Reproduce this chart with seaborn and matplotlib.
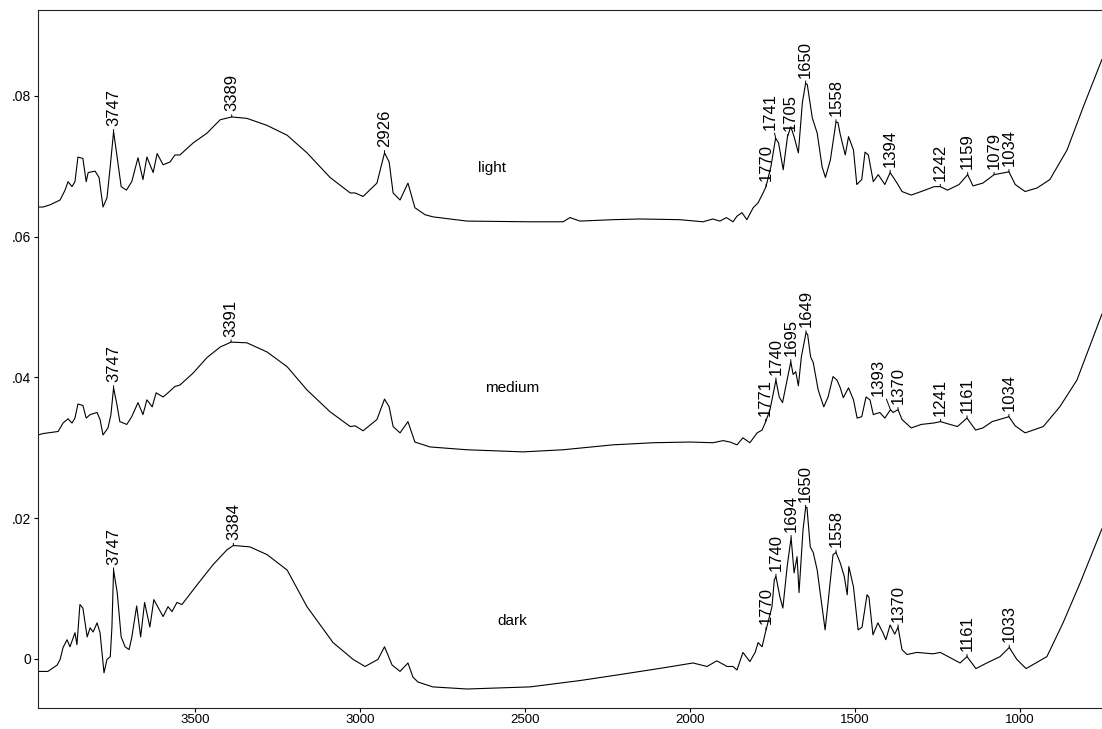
import numpy as np
import pandas as pd
import matplotlib
matplotlib.use("Agg")
import matplotlib.pyplot as plt
from matplotlib.ticker import FuncFormatter
import seaborn as sns

# ---------------- data (wavenumber cm-1, absorbance) ----------------
light_wn = [3976, 3961, 3940, 3909, 3894, 3885, 3873, 3864, 3855, 3840, 3830, 3824, 3803, 3791,
            3779, 3767, 3757, 3747, 3738, 3724, 3708, 3692, 3673, 3658, 3646, 3627, 3615, 3597,
            3576, 3561, 3546, 3506, 3464, 3424, 3389, 3343, 3282, 3221, 3161, 3091, 3030, 3015,
            2991, 2949, 2926, 2912, 2900, 2879, 2855, 2834, 2803, 2779, 2676, 2485, 2385, 2364,
            2334, 2234, 2152, 2031, 1961, 1931, 1910, 1890, 1870, 1858, 1843, 1828, 1809, 1794,
            1779, 1770, 1755, 1741, 1732, 1718, 1705, 1695, 1685, 1672, 1660, 1650, 1645, 1630,
            1615, 1600, 1590, 1575, 1558, 1552, 1545, 1530, 1520, 1505, 1495, 1480, 1470, 1460,
            1445, 1430, 1410, 1394, 1373, 1358, 1330, 1300, 1260, 1242, 1220, 1185, 1159, 1143,
            1113, 1079, 1034, 1015, 985, 949, 910, 858, 809, 752]
light_abs = [0.0642, 0.0642, 0.0645, 0.0652, 0.0666, 0.0678, 0.0671, 0.0678, 0.0713, 0.0711, 0.0678,
             0.0691, 0.0693, 0.0684, 0.0642, 0.0655, 0.0700, 0.0749, 0.0719, 0.0671, 0.0666, 0.0678,
             0.0712, 0.0681, 0.0713, 0.0691, 0.0718, 0.0702, 0.0706, 0.0716, 0.0716, 0.0733, 0.0747,
             0.0766, 0.0770, 0.0768, 0.0758, 0.0744, 0.0719, 0.0684, 0.0662, 0.0662, 0.0657, 0.0676,
             0.0719, 0.0706, 0.0662, 0.0652, 0.0676, 0.0641, 0.0631, 0.0628, 0.0622, 0.0621, 0.0621,
             0.0627, 0.0622, 0.0624, 0.0625, 0.0624, 0.0621, 0.0625, 0.0622, 0.0627, 0.0621, 0.0629,
             0.0634, 0.0624, 0.0641, 0.0648, 0.0662, 0.0671, 0.0700, 0.0740, 0.0733, 0.0695, 0.0742,
             0.0756, 0.0742, 0.0719, 0.0790, 0.0818, 0.0816, 0.0769, 0.0747, 0.0699, 0.0684, 0.0709,
             0.0763, 0.0762, 0.0745, 0.0716, 0.0742, 0.0723, 0.0674, 0.0681, 0.0720, 0.0716, 0.0678,
             0.0688, 0.0674, 0.0691, 0.0676, 0.0664, 0.0659, 0.0664, 0.0671, 0.0671, 0.0666, 0.0674,
             0.0688, 0.0672, 0.0676, 0.0688, 0.0692, 0.0674, 0.0664, 0.0669, 0.0681, 0.0723, 0.0784,
             0.0852]

medium_wn = [3976, 3961, 3915, 3900, 3885, 3873, 3864, 3855, 3840, 3830, 3818, 3797, 3788, 3779,
             3764, 3755, 3747, 3738, 3728, 3707, 3692, 3673, 3658, 3646, 3630, 3618, 3597, 3582,
             3561, 3546, 3506, 3464, 3424, 3391, 3343, 3282, 3221, 3161, 3091, 3030, 3015, 2991,
             2949, 2926, 2912, 2900, 2879, 2855, 2834, 2788, 2676, 2506, 2385, 2234, 2112, 2000,
             1931, 1900, 1879, 1858, 1840, 1819, 1797, 1782, 1771, 1758, 1740, 1730, 1720, 1708,
             1695, 1688, 1680, 1672, 1663, 1649, 1644, 1635, 1627, 1612, 1595, 1582, 1567, 1555,
             1545, 1536, 1520, 1505, 1494, 1480, 1467, 1455, 1445, 1425, 1410, 1393, 1385, 1370,
             1358, 1330, 1300, 1262, 1241, 1220, 1190, 1161, 1135, 1113, 1085, 1034, 1015, 985,
             930, 880, 828, 752]
medium_abs = [0.0318, 0.0320, 0.0323, 0.0335, 0.0341, 0.0335, 0.0342, 0.0362, 0.0360, 0.0342, 0.0347,
              0.0350, 0.0340, 0.0318, 0.0328, 0.0347, 0.0385, 0.0364, 0.0337, 0.0333, 0.0344, 0.0364,
              0.0347, 0.0368, 0.0358, 0.0378, 0.0372, 0.0378, 0.0387, 0.0389, 0.0406, 0.0428, 0.0443,
              0.0450, 0.0449, 0.0436, 0.0415, 0.0382, 0.0351, 0.0330, 0.0331, 0.0324, 0.0340, 0.0369,
              0.0358, 0.0330, 0.0321, 0.0337, 0.0308, 0.0301, 0.0297, 0.0294, 0.0297, 0.0304, 0.0307,
              0.0308, 0.0307, 0.0310, 0.0308, 0.0304, 0.0314, 0.0307, 0.0321, 0.0325, 0.0337, 0.0354,
              0.0396, 0.0372, 0.0364, 0.0392, 0.0422, 0.0404, 0.0408, 0.0388, 0.0429, 0.0463, 0.0461,
              0.0429, 0.0421, 0.0382, 0.0358, 0.0372, 0.0401, 0.0396, 0.0385, 0.0371, 0.0385, 0.0368,
              0.0342, 0.0344, 0.0372, 0.0368, 0.0347, 0.0350, 0.0342, 0.0354, 0.0350, 0.0354, 0.0340,
              0.0328, 0.0333, 0.0335, 0.0337, 0.0334, 0.0330, 0.0342, 0.0325, 0.0328, 0.0337, 0.0344,
              0.0331, 0.0321, 0.0330, 0.0358, 0.0396, 0.0490]

dark_wn = [3976, 3946, 3918, 3909, 3900, 3888, 3879, 3864, 3858, 3849, 3840, 3827, 3818, 3809,
           3797, 3788, 3776, 3767, 3757, 3752, 3747, 3736, 3724, 3712, 3700, 3692, 3677, 3665,
           3653, 3637, 3625, 3597, 3582, 3570, 3555, 3540, 3494, 3445, 3403, 3384, 3334, 3282,
           3221, 3161, 3082, 3021, 2985, 2946, 2926, 2903, 2879, 2855, 2840, 2825, 2780, 2676,
           2485, 2334, 2234, 2082, 1991, 1949, 1919, 1888, 1870, 1858, 1840, 1819, 1803, 1794,
           1782, 1770, 1752, 1745, 1740, 1728, 1719, 1706, 1694, 1685, 1676, 1670, 1658, 1650,
           1646, 1636, 1627, 1615, 1591, 1582, 1567, 1558, 1545, 1533, 1524, 1519, 1505, 1491,
           1479, 1464, 1458, 1446, 1431, 1416, 1407, 1394, 1380, 1370, 1358, 1343, 1313, 1264,
           1242, 1182, 1161, 1134, 1101, 1061, 1033, 1010, 982, 919, 870, 818, 752]
dark_abs = [-0.0018, -0.0018, -0.0009, -0.0001, 0.0016, 0.0027, 0.0017, 0.0037, 0.0020, 0.0077,
            0.0072, 0.0031, 0.0044, 0.0038, 0.0051, 0.0037, -0.0020, -0.0001, 0.0003, 0.0045,
            0.0126, 0.0094, 0.0031, 0.0017, 0.0013, 0.0030, 0.0075, 0.0031, 0.0080, 0.0045,
            0.0084, 0.0060, 0.0074, 0.0067, 0.0080, 0.0077, 0.0105, 0.0134, 0.0155, 0.0161,
            0.0159, 0.0148, 0.0126, 0.0074, 0.0023, -0.0001, -0.0011, -0.0001, 0.0017, -0.0009,
            -0.0018, -0.0006, -0.0026, -0.0033, -0.0040, -0.0043, -0.0040, -0.0031, -0.0024,
            -0.0013, -0.0006, -0.0011, -0.0003, -0.0011, -0.0011, -0.0016, 0.0009, -0.0004,
            0.0009, 0.0023, 0.0017, 0.0041, 0.0074, 0.0112, 0.0117, 0.0088, 0.0072, 0.0131,
            0.0172, 0.0122, 0.0145, 0.0094, 0.0183, 0.0215, 0.0215, 0.0159, 0.0151, 0.0126,
            0.0041, 0.0080, 0.0148, 0.0151, 0.0136, 0.0117, 0.0091, 0.0131, 0.0102, 0.0041,
            0.0045, 0.0091, 0.0087, 0.0034, 0.0051, 0.0037, 0.0027, 0.0048, 0.0035, 0.0045,
            0.0013, 0.0006, 0.0009, 0.0007, 0.0009, -0.0006, 0.0003, -0.0014, -0.0006, 0.0003,
            0.0016, -0.0001, -0.0014, 0.0003, 0.0051, 0.0108, 0.0185]

light_peaks = [3747, 3389, 2926, 1770, 1741, 1705, 1650, 1558, 1394, 1242, 1159, 1079, 1034]
medium_peaks = [3747, 3391, 1771, 1740, 1695, 1649, 1393, 1370, 1241, 1161, 1034]
dark_peaks = [3747, 3384, 1770, 1740, 1694, 1650, 1558, 1370, 1161, 1033]

sample_names = ["light", "medium", "dark"]
x_ticks = [3500, 3000, 2500, 2000, 1500, 1000]
y_ticks = [0.0, 0.02, 0.04, 0.06, 0.08]

# ---------------- layout ----------------
name_pos = {"light": (2600, 0.0698), "medium": (2540, 0.0385), "dark": (2540, 0.0054)}
label_shift = {("medium", 1393): (-9, 10), ("light", 1741): (-4, 6), ("light", 1705): (2, 4)}

sns.set_theme(style="white")
plt.rcParams["font.family"] = ["Liberation Sans Narrow", "Liberation Sans", "DejaVu Sans"]

fig = plt.figure(figsize=(11.02, 7.29), dpi=100)
ax = fig.add_axes([38 / 1102, 1 - 708 / 729, 1 - 38 / 1102, 698 / 729])

series = {
    "light": (light_wn, light_abs, light_peaks),
    "medium": (medium_wn, medium_abs, medium_peaks),
    "dark": (dark_wn, dark_abs, dark_peaks),
}

for name in sample_names:
    wn, ab, peaks = series[name]
    df = pd.DataFrame({"wn": wn, "abs": ab})
    sns.lineplot(data=df, x="wn", y="abs", ax=ax, color="black", lw=0.8,
                 estimator=None, sort=True)
    xs = np.array(wn[::-1], dtype=float)
    ys = np.array(ab[::-1], dtype=float)
    for p in peaks:
        yv = np.interp(p, xs, ys)
        dx, dy = label_shift.get((name, p), (0, 4))
        ax.annotate(str(p), xy=(p, yv), xytext=(dx, dy), textcoords="offset points",
                    rotation=90, ha="center", va="bottom", fontsize=12, color="black",
                    family=["Liberation Sans", "DejaVu Sans"],
                    arrowprops=dict(arrowstyle="-", lw=0.7, color="black",
                                    shrinkA=0, shrinkB=0))
    tx, ty = name_pos[name]
    ax.text(tx, ty, name, ha="center", va="center", fontsize=11, color="black",
            family=["Liberation Sans", "DejaVu Sans"])

ax.set_xlim(3976, 752)
ax.set_ylim(-0.0070, 0.0922)
ax.set_xticks(x_ticks)
ax.set_yticks(y_ticks)
ax.xaxis.set_major_formatter(FuncFormatter(lambda v, _: f"{int(v)}"))
ax.yaxis.set_major_formatter(FuncFormatter(lambda v, _: "0" if abs(v) < 1e-9 else f"{v:.2f}".lstrip("0")))
ax.set_xlabel("")
ax.set_ylabel("")
ax.tick_params(axis="both", direction="out", length=3, width=0.8, labelsize=10,
               colors="black", bottom=True, left=True)
ax.tick_params(axis="x", pad=1.5, labelsize=9.5)
ax.tick_params(axis="y", pad=2)
for s in ["left", "bottom", "top"]:
    ax.spines[s].set_visible(True)
    ax.spines[s].set_color("#222222")
    ax.spines[s].set_linewidth(0.8)
ax.spines["right"].set_visible(False)
ax.grid(False)

fig.savefig("out.png", dpi=100)
